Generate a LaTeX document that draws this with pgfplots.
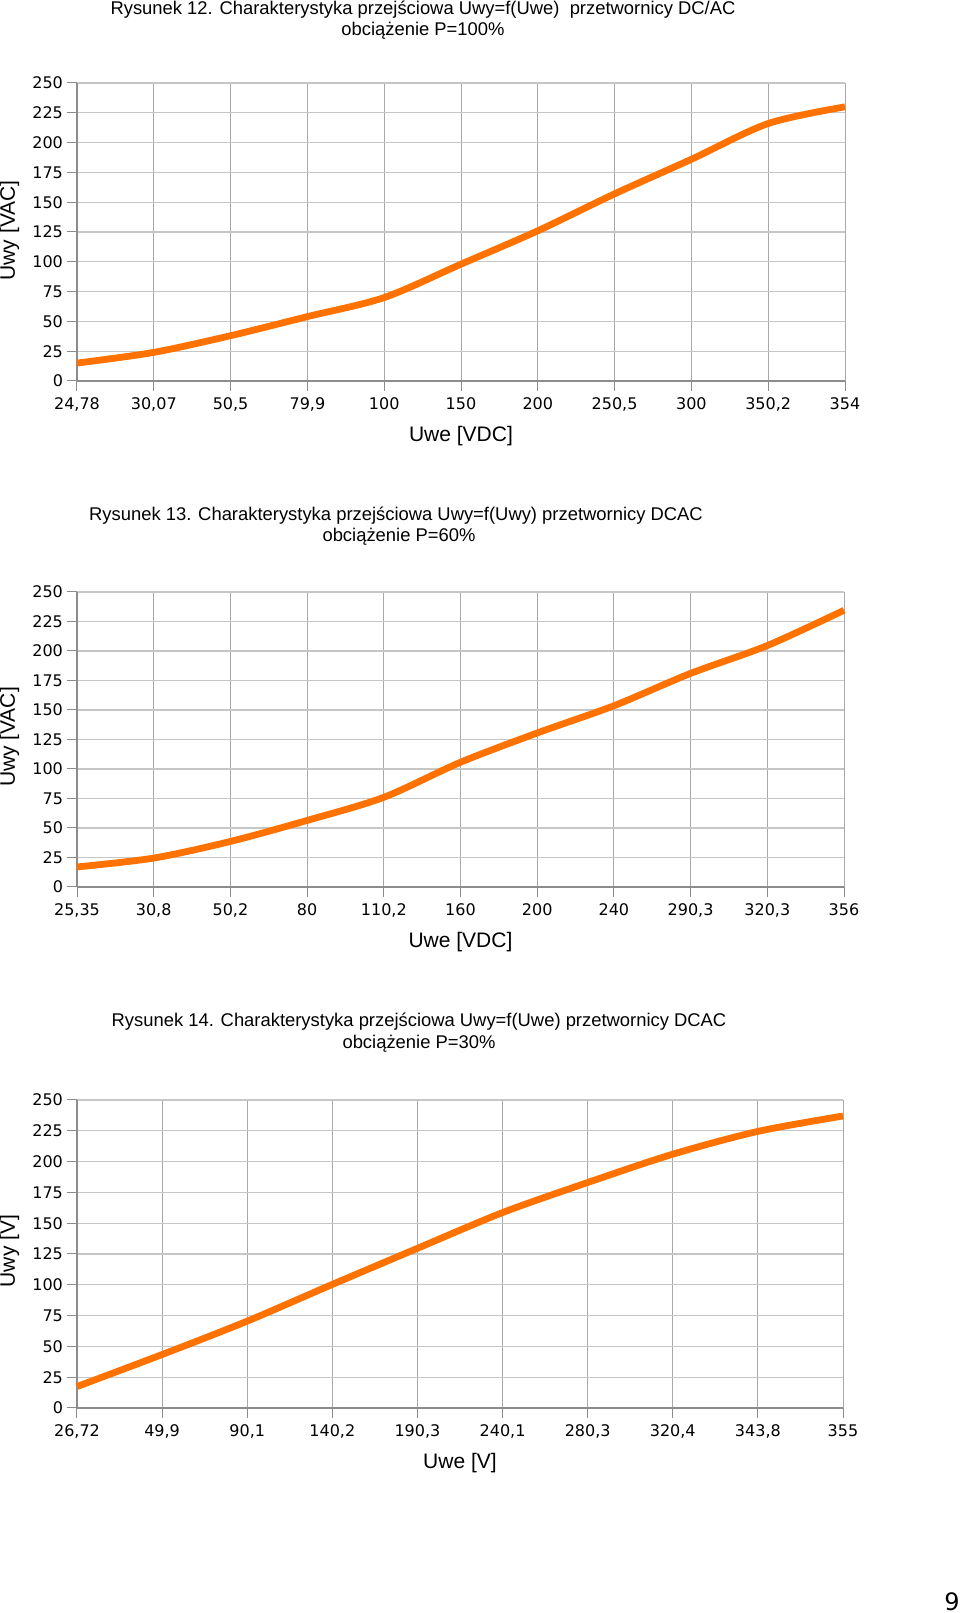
\documentclass[border=0pt]{standalone}
\usepackage{fontspec}
\setmainfont{Liberation Sans}
\newfontfamily\dejavu{DejaVu Sans}
\usepackage{pgfplots}
\pgfplotsset{compat=1.18}
\definecolor{curve}{HTML}{FF7200}
\definecolor{gridv}{HTML}{A8A8A8}
\definecolor{gridh}{HTML}{C6C6C6}
\definecolor{axisc}{HTML}{8C8C8C}
\pgfplotsset{
  chart/.style={
    scale only axis, anchor=south west,
    ymin=0, ymax=250, ytick={0,25,...,250},
    axis lines*=left, axis line style={axisc, line width=0.6pt},
    tick align=outside, major tick length=5pt,
    tick style={axisc, line width=0.5pt},
    xmajorgrids, ymajorgrids,
    x grid style={gridv, line width=0.5pt},
    y grid style={gridh, line width=0.6pt},
    tick label style={font=\dejavu\fontsize{8}{9.5}\selectfont, text=black},
    /pgf/number format/assume math mode=true,
    yticklabel style={xshift=1.5pt},
    xticklabel style={yshift=0pt},
    xlabel style={at={(axis description cs:0.5,0)}, anchor=center, yshift=-27.5pt,
      font=\fontsize{10.5}{12}\selectfont},
    clip=false,
  },
  curveline/.style={curve, line width=3.4pt, smooth, no marks},
}
\tikzset{
  ttl/.style={anchor=base, font=\fontsize{9.2}{10.5}\selectfont},
  ylab/.style={rotate=90, anchor=base, font=\fontsize{10.5}{12}\selectfont},
}

\begin{document}
\begin{tikzpicture}
\useasboundingbox (0pt,0pt) rectangle (480pt,806.5pt);
\coordinate (P1) at (38.5pt,616pt);
\coordinate (P2) at (38.5pt,363pt);
\coordinate (P3) at (38.5pt,102.5pt);

% Rysunek 12
\node[ttl] at (211.5pt,799.3pt) {Rysunek 12. Charakterystyka przejściowa Uwy=f(Uwe)\ \ przetwornicy DC/AC};
\node[ttl] at (211.5pt,788.8pt) {obciążenie P=100\%};
\node[ylab] at (7.5pt,691.25pt) {Uwy [VAC]};
\begin{axis}[chart, at={(P1)}, width=384pt, height=149pt,
    xmin=0, xmax=10, xtick={0,...,10},
    xticklabels={{24,78},{30,07},{50,5},{79,9},100,150,200,{250,5},300,{350,2},354},
    xlabel={Uwe [VDC]}]
  \addplot[curveline] coordinates {
    (0,15) (1,24) (2,38) (3,54) (4,70) (5,98) (6,126) (7,157) (8,186) (9,216) (10,230)};
\end{axis}

% Rysunek 13
\node[ttl] at (198pt,546pt) {Rysunek 13. Charakterystyka przejściowa Uwy=f(Uwy) przetwornicy DCAC};
\node[ttl] at (199.5pt,535.8pt) {obciążenie P=60\%};
\node[ylab] at (7.5pt,438pt) {Uwy [VAC]};
\begin{axis}[chart, at={(P2)}, width=383.5pt, height=147.5pt,
    xmin=0, xmax=10, xtick={0,...,10},
    xticklabels={{25,35},{30,8},{50,2},80,{110,2},160,200,240,{290,3},{320,3},356},
    xlabel={Uwe [VDC]}]
  \addplot[curveline] coordinates {
    (0,17) (1,24.5) (2,38.6) (3,56.4) (4,76) (5,105.7) (6,130.5) (7,153.6) (8,181) (9,204.6) (10,234.5)};
\end{axis}

% Rysunek 14
\node[ttl] at (209.5pt,293.3pt) {Rysunek 14. Charakterystyka przejściowa Uwy=f(Uwe) przetwornicy DCAC};
\node[ttl] at (209.5pt,282.3pt) {obciążenie P=30\%};
\node[ylab] at (7.5pt,181pt) {Uwy [V]};
\begin{axis}[chart, at={(P3)}, width=383pt, height=154pt,
    xmin=0, xmax=9, xtick={0,...,9},
    xticklabels={{26,72},{49,9},{90,1},{140,2},{190,3},{240,1},{280,3},{320,4},{343,8},355},
    xlabel={Uwe [V]}]
  \addplot[curveline] coordinates {
    (0,17.4) (1,43.4) (2,70.5) (3,100.3) (4,129.6) (5,158.6) (6,183) (7,206) (8,224.5) (9,237)};
\end{axis}

\node[font=\dejavu\fontsize{12}{14}\selectfont] at (476pt,5.5pt) {9};
\end{tikzpicture}
\end{document}
